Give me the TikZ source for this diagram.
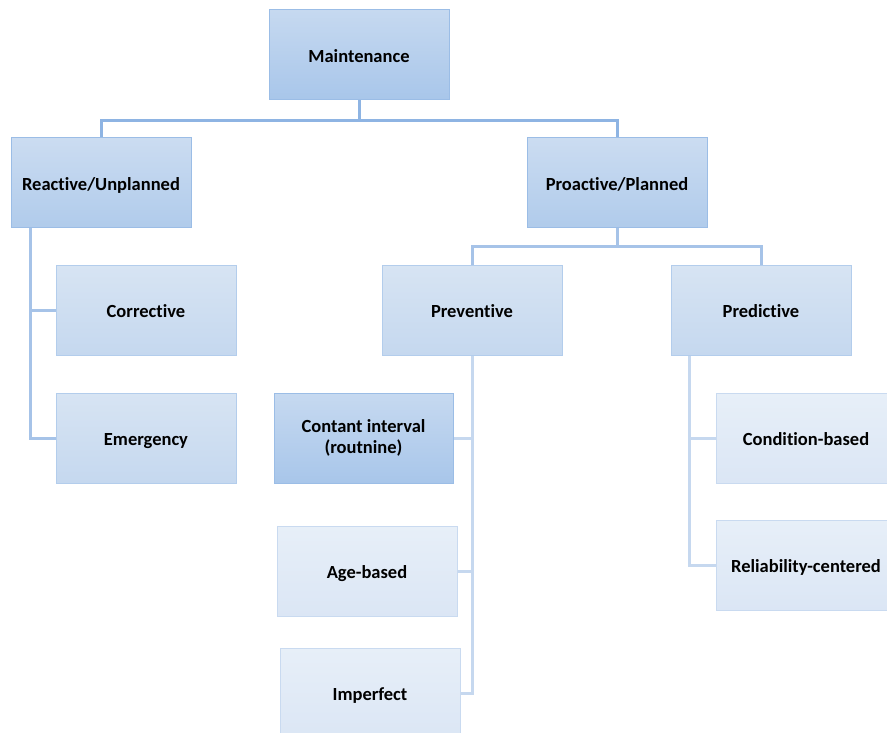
\documentclass[tikz,border=0pt]{standalone}
\usepackage{fontspec}
\setmainfont[Ligatures={NoCommon,NoContextual}]{Carlito}
\definecolor{linkA}{HTML}{8EB4E3}
\definecolor{linkB}{HTML}{A6C3E8}
\definecolor{linkC}{HTML}{C6D8EF}
\definecolor{edgeA}{HTML}{9BBDE6}
\definecolor{edgeB}{HTML}{B3CDEC}
\definecolor{edgeC}{HTML}{C9DAF0}
\tikzset{
  box/.style={rectangle, minimum width=180pt, minimum height=90pt, inner sep=0pt,
    align=center, font=\fontsize{18.5}{21}\selectfont\bfseries, line width=1pt},
  % single-line labels: fixed line box so every label sits on the same baseline
  oneline/.style={text height=16.5pt, text depth=2pt},
  lvlA/.style={box, draw=edgeA, top color={rgb,255:red,198;green,217;blue,240}, bottom color={rgb,255:red,168;green,198;blue,234}},
  lvlB/.style={box, oneline, draw=edgeA, top color={rgb,255:red,203;green,220;blue,241}, bottom color={rgb,255:red,176;green,203;blue,235}},
  lvlC/.style={box, oneline, draw=edgeB, top color={rgb,255:red,215;green,228;blue,243}, bottom color={rgb,255:red,197;green,216;blue,239}},
  lvlD/.style={box, oneline, draw=edgeC, top color={rgb,255:red,231;green,239;blue,248}, bottom color={rgb,255:red,219;green,230;blue,245}},
  link/.style={line width=3pt, draw=#1}
}
\begin{document}
\begin{tikzpicture}[x=1pt,y=-1pt]
  \useasboundingbox (0,0) rectangle (887,733);
  \clip (0,0) rectangle (887,733);

  % root and first level
  \node[lvlA, oneline] (maint) at (359,55) {Maintenance};
  \node[lvlB] (react) at (101,183) {Reactive/Unplanned};
  \node[lvlB] (proact) at (617,183) {Proactive/Planned};

  % second level
  \node[lvlC] (corr) at (146,310) {Corrective};
  \node[lvlC] (emerg) at (146,438) {Emergency};
  \node[lvlC] (prev) at (472,310) {Preventive};
  \node[lvlC] (pred) at (761,310) {Predictive};

  % third level
  \node[lvlA, minimum width=179pt] (contant) at (363.5,438) {Contant interval\\(routnine)};
  \node[lvlD] (age) at (367,571) {Age-based};
  \node[lvlD] (imperf) at (370,693) {Imperfect};
  \node[lvlD] (cond) at (806,438) {Condition-based};
  \node[lvlD] (rel) at (806,565) {Reliability-centered};

  % connectors (yshift is in page units, so downwards is negative)
  \coordinate (mjoin) at ([yshift=-20pt]maint.south);
  \draw[link=linkA] (maint.south) -- (mjoin) -| (react.north);
  \draw[link=linkA] (mjoin) -| (proact.north);

  \coordinate (rtrunk) at ([xshift=20pt]react.south west);
  \draw[link=linkB] (rtrunk) |- (corr.west);
  \draw[link=linkB] (rtrunk) |- (emerg.west);

  \coordinate (pjoin) at ([yshift=-18pt]proact.south);
  \draw[link=linkB] (proact.south) -- (pjoin) -| (prev.north);
  \draw[link=linkB] (pjoin) -| (pred.north);

  \draw[link=linkC] (prev.south) |- (contant.east);
  \draw[link=linkC] (prev.south) |- (age.east);
  \draw[link=linkC] (prev.south) |- (imperf.east);

  \coordinate (dtrunk) at ([xshift=19pt]pred.south west);
  \draw[link=linkC] (dtrunk) |- (cond.west);
  \draw[link=linkC] (dtrunk) |- (rel.west);
\end{tikzpicture}
\end{document}
